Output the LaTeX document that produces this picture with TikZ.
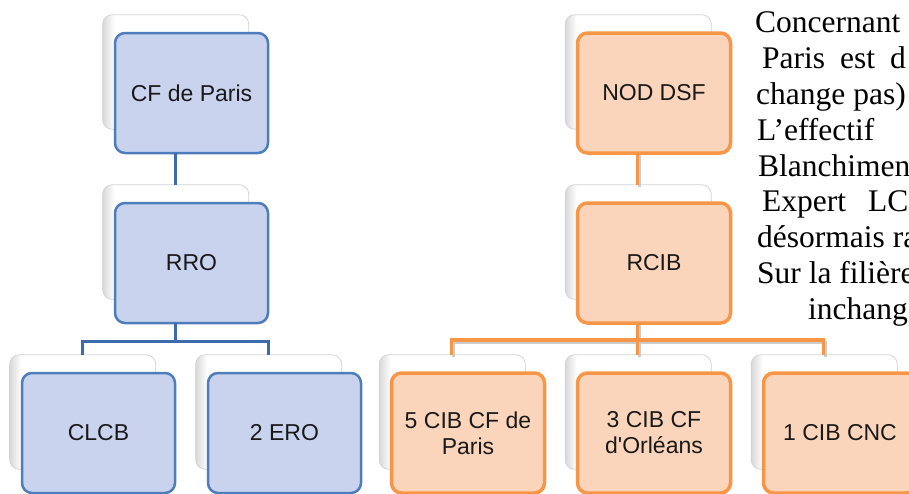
\documentclass[tikz,border=0pt]{standalone}
\usepackage{fontspec}
\setmainfont{Liberation Serif}
\newfontfamily\cardfont{Liberation Sans}
\usetikzlibrary{positioning,shadows}
\definecolor{bfill}{RGB}{201,211,238}
\definecolor{bedge}{RGB}{79,124,186}
\definecolor{blink}{RGB}{61,107,174}
\definecolor{ofill}{RGB}{251,213,187}
\definecolor{oedge}{RGB}{247,150,70}
\pgfdeclarehorizontalshading{cardshade}{100bp}{color(0bp)=(gray!30); color(25bp)=(gray!30); color(29bp)=(white); color(100bp)=(white)}
\tikzset{card/.style={rectangle,rounded corners=10pt,outer sep=0pt,minimum width=153pt,minimum height=120pt,
		align=center,text=black!90,font=\cardfont\fontsize{23}{26}\selectfont,
		general shadow={shadow xshift=-16.5pt,shadow yshift=22pt,shadow scale=0.955,
			draw=gray!35,line width=0.8pt,shade,shading=cardshade}},
	 bcard/.style={card,draw=bedge,fill=bfill,line width=2.5pt},
	 ocard/.style={card,draw=oedge,fill=ofill,line width=3.5pt},
	 bline/.style={draw=blink,line width=3pt},
	 oline/.style={draw=oedge,line width=3.5pt,
		preaction={draw=gray!40,line width=3pt,transform canvas={shift={(2pt,-2pt)}}}},
	 txt/.style={anchor=base west,inner sep=0pt,font=\fontsize{31.5}{36}\selectfont},
	 node distance = 50pt and 33pt
	 }
\begin{document}
\begin{tikzpicture}[x=1pt,y=-1pt]% two org charts
        \useasboundingbox (0,0) rectangle (909,493);
        \clip (0,0) rectangle (909,493);
        \node[bcard] (cf) at (191.5,93) {CF de Paris};
        \node[bcard] (rro) [below=of cf] {RRO};
        \node[bcard] (clcb) [below=of rro, xshift=-93pt] {CLCB};
        \node[bcard] (ero) [right=of clcb] {2 ERO};
        \node[ocard] (nod) at (654,93) {NOD DSF};
        \node[ocard] (rcib) [below=of nod] {RCIB};
        \node[ocard] (cib5) [below=of rcib, xshift=-186pt] {5 CIB CF de\\Paris};
        \node[ocard] (cib3) [right=of cib5] {3 CIB CF\\d'Orléans};
        \node[ocard] (cnc) [right=of cib3] {1 CIB CNC};
        \draw[bline] ([xshift=-16.5pt]cf.south) -- ([shift={(-16.5pt,18pt)}]rro.north);
        \draw[bline] ([xshift=-16.5pt]rro.south) -- ++(0,18) coordinate (bbar);
        \draw[bline] ([shift={(-16.5pt,18pt)}]clcb.north) |- (bbar) -| ([shift={(-16.5pt,18pt)}]ero.north);
        \draw[oline] ([xshift=-16.5pt]nod.south) -- ([shift={(-16.5pt,18pt)}]rcib.north);
        \draw[oline] ([xshift=-16.5pt]rcib.south) -- ++(0,17) coordinate (obar);
        \draw[oline] ([shift={(-16.5pt,18pt)}]cib5.north) |- (obar) -| ([shift={(-16.5pt,18pt)}]cnc.north);
        \draw[oline] (obar) -- ([shift={(-16.5pt,18pt)}]cib3.north);
        \node[txt] (l1) at (755,32) {Concernant};
        \node[txt] (l2) at (762,68) {Paris\hspace{15pt}est\hspace{15pt}d};
        \node[txt] (l3) at (756,104) {change pas)};
        \node[txt] (l4) at (757,140) {L’effectif};
        \node[txt] (l5) at (758,176) {Blanchimen};
        \node[txt] (l6) at (762,211) {Expert\hspace{22pt}LC};
        \node[txt] (l7) at (757,247) {désormais ra};
        \node[txt] (l8) at (757,283) {Sur la filière};
        \node[txt] (l9) at (808,319) {inchang};
     \end{tikzpicture}
\end{document}
